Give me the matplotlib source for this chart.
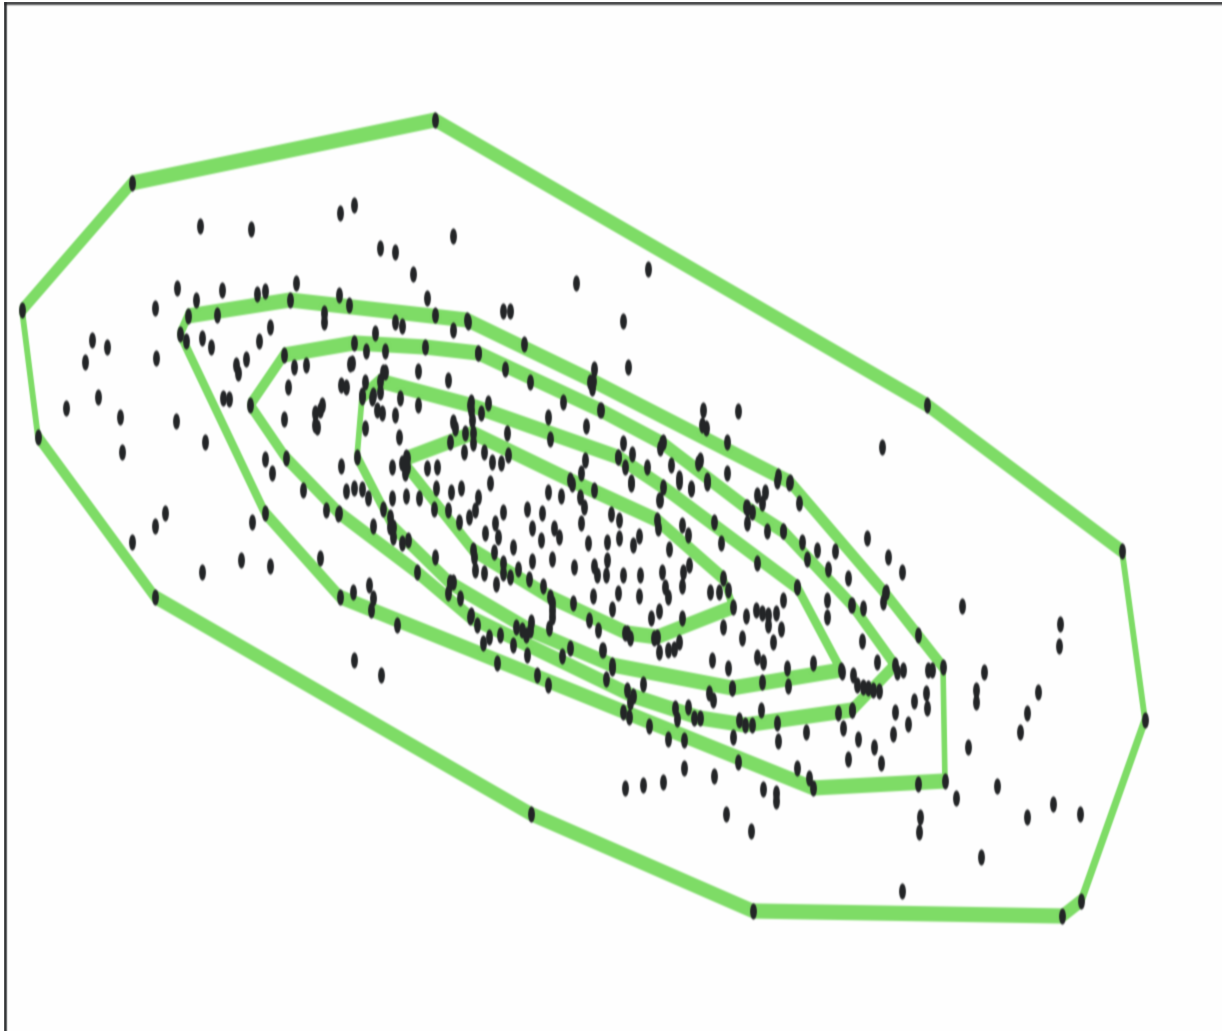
#!/usr/bin/env python3
# convex hull peeling layers over a scatter, squashed horizontally like the original
import numpy as np
import matplotlib
matplotlib.use('Agg')
import matplotlib.pyplot as plt
from matplotlib.patches import Ellipse
from matplotlib.path import Path
from matplotlib.transforms import Affine2D

# hull layers, outermost first
layer1 = [(435,120),(927,405),(1122,551),(1145,720),(1081,901),(1062,916),(753,911),
          (531,814),(155,597),(38,437),(22,310),(132,183)]
layer2 = [(188,316),(290,300),(467,320),(593,381),(778,476),(790,482),(885,593),(943,667),
          (945,781),(813,788),(340,597),(265,513),(180,334)]
layer3 = [(284,355),(354,343),(425,347),(478,353),(600,410),(662,443),(747,508),(783,531),
          (852,605),(895,665),(852,710),(745,725),(700,718),(633,696),(470,617),(417,572),
          (339,513),(286,458),(250,405)]
layer4 = [(380,381),(470,405),(618,457),(663,487),(797,587),(841,670),(732,688),(612,665),
          (530,630),(450,583),(393,527),(357,457),(362,397)]
layer5 = [(407,458),(473,433),(570,480),(657,520),(723,578),(733,607),(657,637),(627,633),
          (550,597),(473,550),(407,467)]
layers = [layer1, layer2, layer3, layer4, layer5]

# scatter, by region of the plot
points_far_left = [(200,226),(251,229),(340,213),(354,205),(177,288),(196,300),(222,290),(257,294),
    (265,291),(296,283),(155,308),(217,315),(339,295),(270,327),(259,341),(202,338),(211,347),
    (186,341),(294,367),(306,365),(246,359),(236,365),(238,373),(288,387),(223,398),(229,399),
    (284,419),(322,405),(315,413),(315,425),(317,427),(66,408),(98,397),(120,417),(122,452),
    (92,340),(107,347),(85,362),(156,358),(176,421),(205,442),(265,459),(272,473),(303,490),
    (326,510),(165,513),(155,526),(132,542),(202,572),(241,560),(270,566),(252,522),(320,558),
    (324,313),(324,322),(341,385),(320,410)]
points_centre_left = [(380,248),(395,252),(413,274),(453,236),(349,305),(395,322),(402,326),(375,333),
    (435,315),(427,298),(453,330),(468,322),(503,311),(510,311),(366,351),(385,351),(352,363),
    (418,371),(365,382),(346,387),(383,372),(380,392),(373,395),(362,395),(400,398),(377,410),
    (382,413),(395,415),(418,405),(448,380),(478,353),(505,369),(530,382),(524,344),(471,402),
    (471,410),(488,403),(481,413),(472,420),(453,422),(455,428),(465,433),(473,443),(450,442),
    (507,433),(464,452),(484,452),(508,455),(492,462),(501,463),(490,483),(365,428),(399,437),
    (341,466),(392,467),(405,462),(427,468),(437,467),(405,473),(436,488),(451,492),(461,488),
    (478,497),(475,510),(469,517),(448,510),(434,509),(406,496),(419,498),(392,498),(346,491),
    (354,488),(362,489),(368,498),(383,509),(390,517),(390,527),(373,526),(338,514),(393,537),
    (402,543),(408,540),(435,557),(459,522),(369,585),(353,592),(373,598),(371,610),(397,625),
    (354,660),(381,675),(350,364),(385,372),(372,398),(402,463),(406,457)]
points_inner = [(503,512),(527,509),(542,513),(495,523),(485,533),(498,537),(532,528),(554,528),
    (541,540),(559,537),(513,547),(494,552),(474,557),(475,570),(484,573),(503,563),(503,573),
    (510,577),(518,569),(532,561),(552,559),(529,579),(496,584),(543,586),(574,567),(588,543),
    (581,523),(548,492),(561,496),(572,484),(580,497),(584,507),(594,490),(552,603),(552,610),
    (552,617),(549,628),(573,603),(589,620),(598,630),(531,622),(516,627),(522,630),(526,635),
    (489,637),(483,643),(477,625),(471,615),(460,598),(448,593),(450,582),(453,582),(500,635),
    (513,645),(527,655),(497,663),(570,648),(562,656),(602,650),(537,675),(548,685),(594,369),
    (590,382),(592,388),(563,402),(548,417),(586,426),(550,439),(576,283),(648,269),(623,321),
    (628,367),(585,460),(581,473),(601,410),(593,596),(594,566),(597,575)]
points_centre_right = [(611,514),(619,520),(619,538),(607,542),(607,560),(606,575),(623,575),(640,575),
    (633,545),(639,536),(618,593),(639,596),(612,609),(625,633),(630,638),(603,650),(612,668),
    (606,679),(643,684),(627,690),(630,702),(623,712),(629,717),(675,708),(677,719),(688,707),
    (694,718),(709,693),(713,700),(732,688),(649,726),(668,739),(684,740),(684,768),(714,776),
    (663,782),(643,785),(625,788),(631,484),(623,443),(632,454),(618,457),(625,467),(647,467),
    (631,482),(663,442),(660,448),(703,410),(738,411),(702,425),(706,428),(727,442),(671,465),
    (679,478),(691,489),(700,460),(698,463),(707,480),(727,473),(659,500),(660,500),(679,482),
    (691,488),(707,483),(658,528),(682,525),(688,535),(714,522),(721,543),(669,549),(689,565),
    (662,572),(683,572),(682,586),(665,587),(668,597),(659,611),(651,618),(682,618),(710,592),
    (719,592),(728,590),(723,627),(712,660),(728,668),(659,652),(668,650),(674,649),(679,642),
    (654,638),(738,762),(726,814),(751,831),(747,507),(746,507),(752,512),(747,523),(757,495),
    (765,492),(762,503),(742,638),(733,737),(739,720),(752,725),(761,710)]
points_right = [(767,531),(783,531),(777,481),(789,483),(799,503),(802,542),(817,550),(835,551),(867,538),
    (888,557),(902,572),(807,559),(828,569),(848,578),(757,563),(797,587),(783,600),(756,610),
    (762,613),(768,615),(776,613),(746,616),(827,600),(827,617),(851,605),(863,608),(883,602),
    (886,592),(918,635),(962,606),(781,629),(773,642),(768,625),(862,641),(877,662),(897,672),
    (903,670),(928,670),(932,670),(984,672),(853,675),(857,685),(863,687),(868,688),(873,690),
    (879,691),(813,663),(842,672),(787,668),(757,657),(763,662),(762,682),(788,686),(777,723),
    (838,713),(852,710),(843,728),(806,732),(778,741),(797,768),(809,778),(763,789),(776,793),
    (776,801),(858,739),(874,747),(881,763),(848,759),(893,734),(895,712),(908,724),(914,701),
    (926,693),(927,708),(918,784),(956,798),(968,747),(997,786),(920,817),(919,832),(981,857),
    (902,891),(976,690),(976,702),(1020,732),(1027,713),(1038,692),(1060,624),(1059,646),
    (1027,817),(1053,804),(1080,814),(882,447)]
points = points_far_left + points_centre_left + points_inner + points_centre_right + points_right

green = '#7ddc65'
dark = '#222426'
# the picture was stretched, so lines and dots are taller than they are wide
half_w, half_h = 2.8, 7.6


def blur(image, dpi):
    # small gaussian, a bit stronger vertically
    out = image.copy()
    for axis, sigma in ((0, 1.0), (1, 0.6)):
        r = np.arange(-3, 4)
        kernel = np.exp(-r**2 / (2 * sigma**2))
        kernel /= kernel.sum()
        smooth = lambda v: np.convolve(np.pad(v, 3, mode='edge'), kernel, mode='valid')
        out = np.apply_along_axis(smooth, axis, out)
    return out, 0, 0


fig = plt.figure(figsize=(12.22, 10.31), dpi=100)
# axes run off the right and bottom of the canvas
ax = fig.add_axes([5 / 1222, 1 - 1100 / 1031, 1300 / 1222, 1097 / 1031])
ax.set_xlim(5, 1305)
ax.set_ylim(1100, 3)
ax.set_xticks([])
ax.set_yticks([])
for spine in ax.spines.values():
    spine.set_linewidth(1.8)
    spine.set_color(dark)

for layer in layers:
    xy = np.array(layer + layer[:1], dtype=float)
    for p, q in zip(xy[:-1], xy[1:]):
        d = q - p
        n = np.array([-d[1], d[0]]) / np.hypot(*d)
        offset = np.array([half_w**2 * n[0], half_h**2 * n[1]])
        offset /= np.sqrt(half_w**2 * n[0]**2 + half_h**2 * n[1]**2)
        quad = np.array([p + offset, q + offset, q - offset, p - offset])
        ax.fill(quad[:, 0], quad[:, 1], color=green, lw=0, zorder=2)
    for p in xy[:-1]:
        ax.add_patch(Ellipse(p, 2 * half_w, 2 * half_h, color=green, lw=0, zorder=2))

marker = Path.unit_circle().transformed(Affine2D().scale(0.42, 1))
all_points = np.array(points + [p for layer in layers for p in layer], dtype=float)
ax.scatter(all_points[:, 0], all_points[:, 1], marker=marker, s=135, color=dark, lw=0, zorder=3)

ax.set_agg_filter(blur)
fig.savefig('out.png', dpi=100)
